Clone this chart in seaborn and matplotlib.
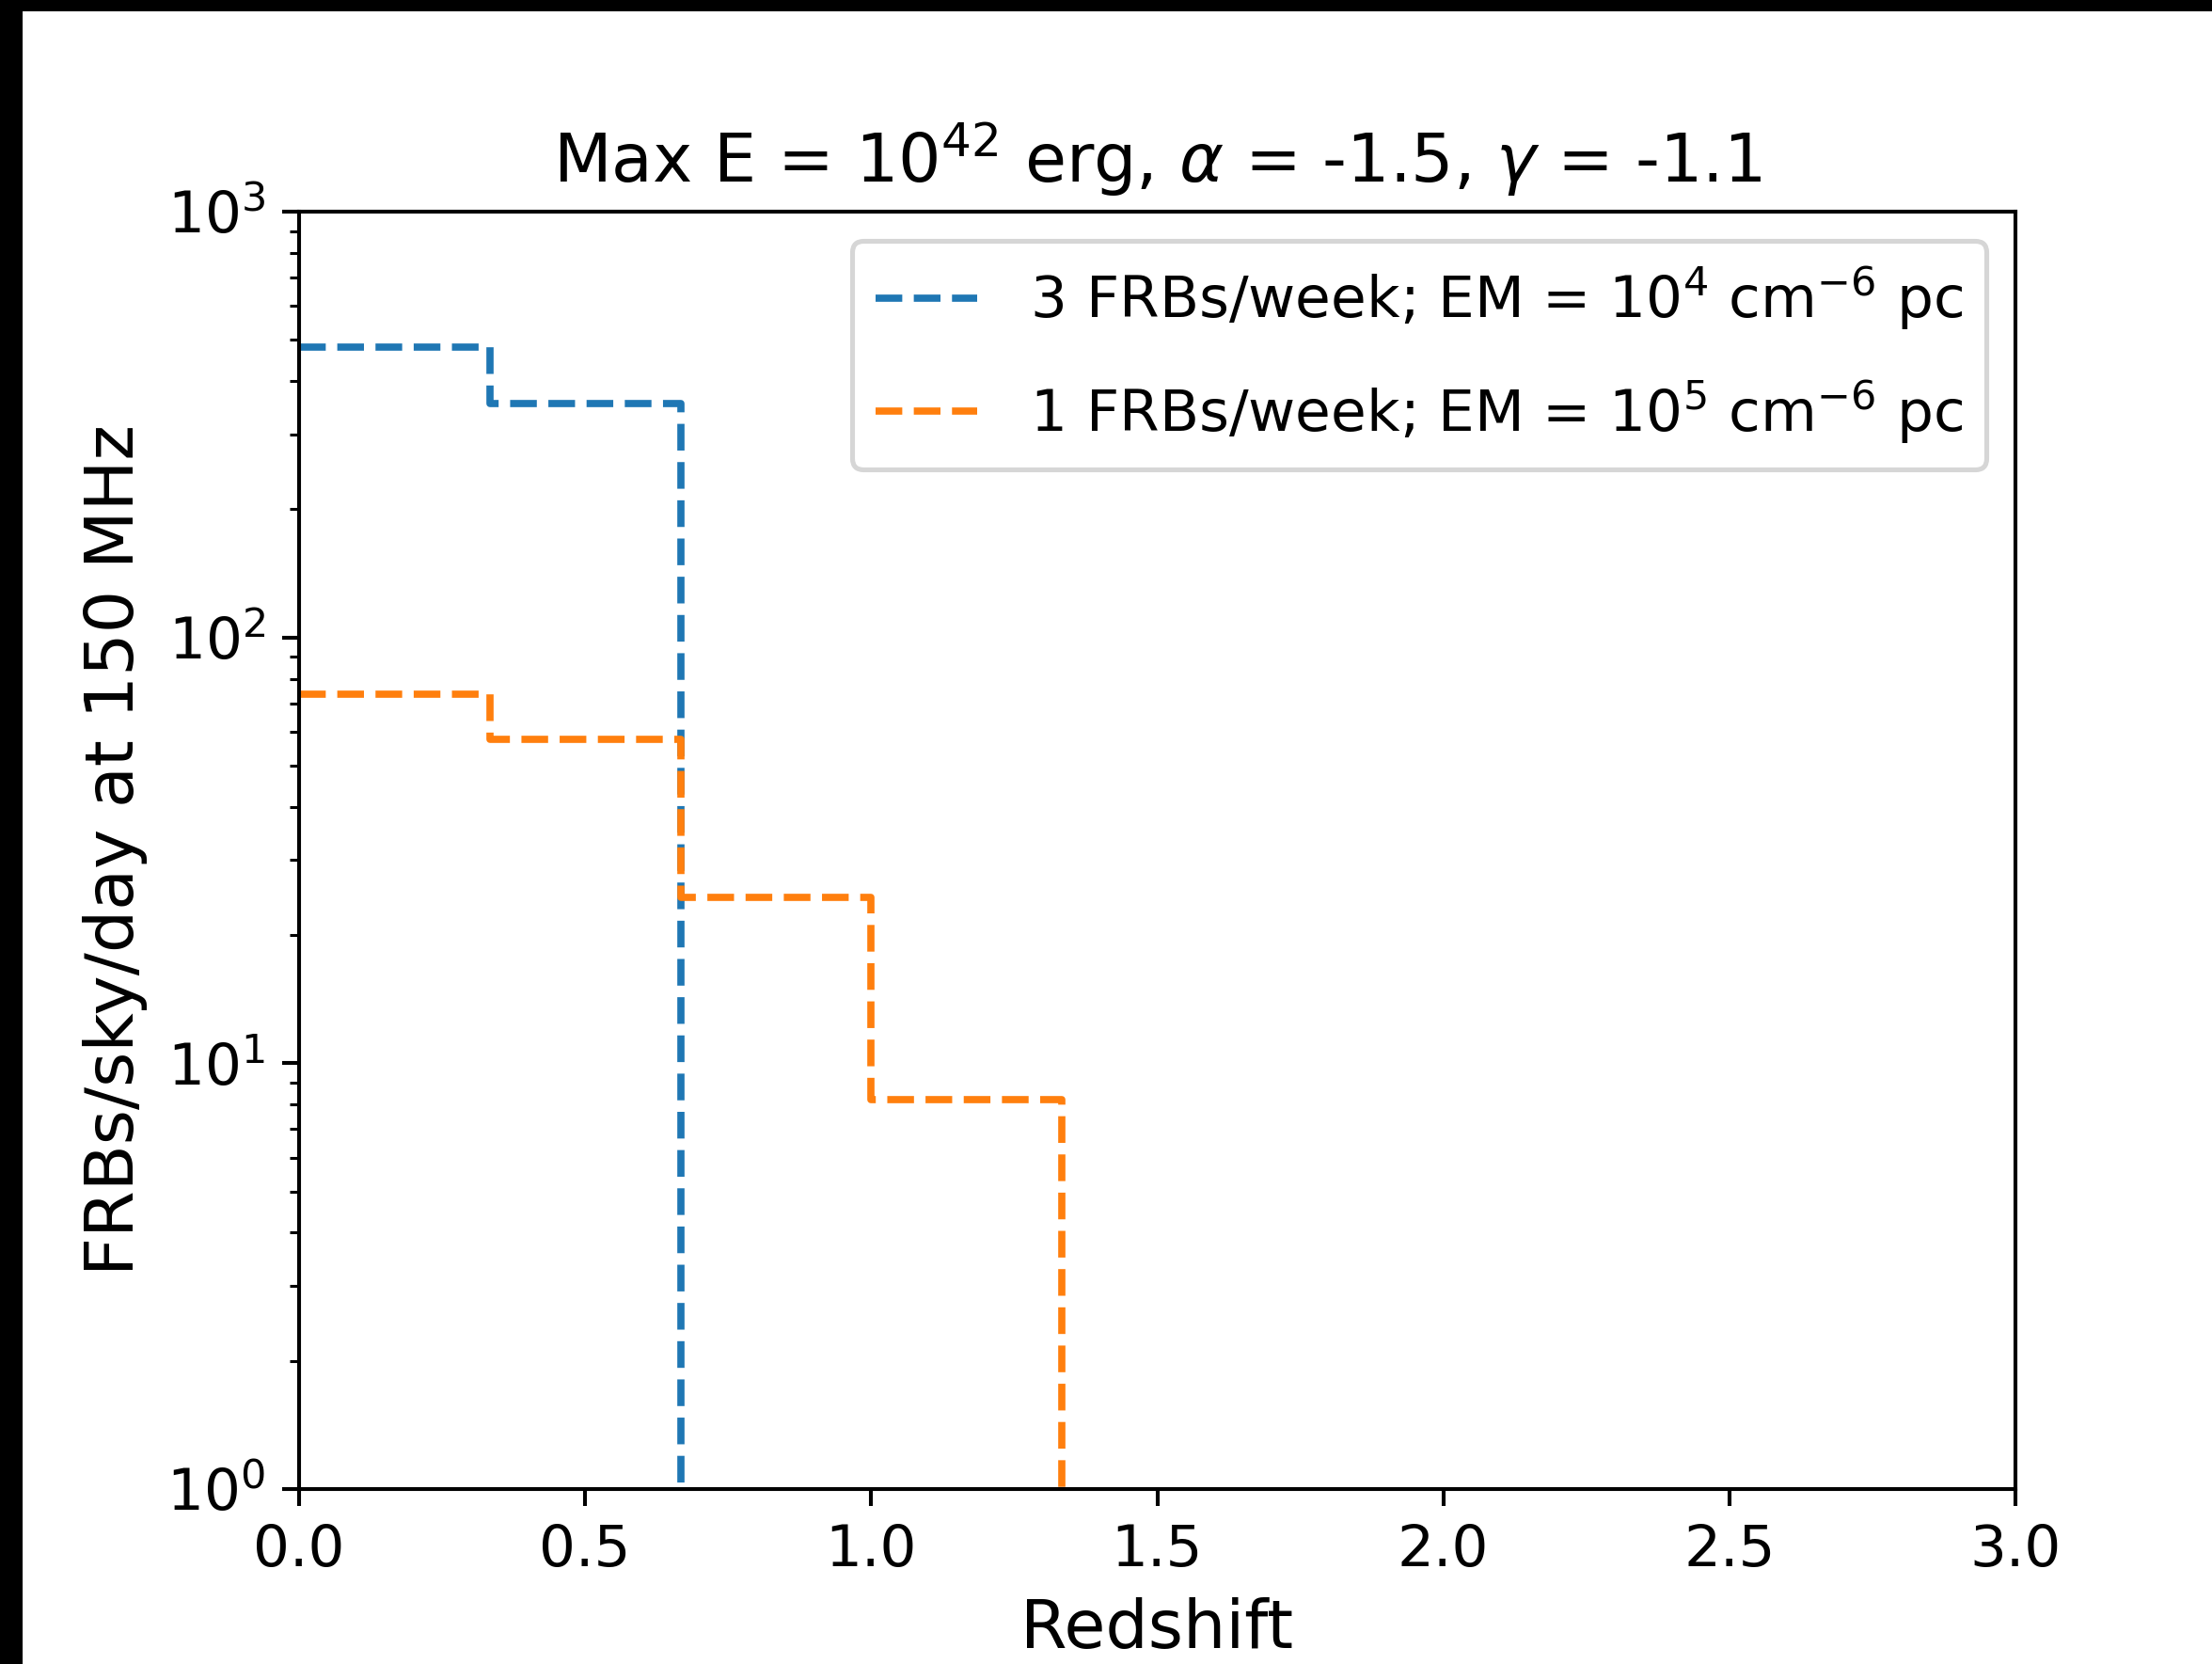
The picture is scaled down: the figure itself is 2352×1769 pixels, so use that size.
import numpy as np
import pandas as pd
import matplotlib
matplotlib.use("Agg")
import matplotlib.pyplot as plt
from matplotlib.patches import Rectangle
import seaborn as sns

# ---- data ----
bin_edges = [0.0, 1/3, 2/3, 1.0, 4/3, 5/3, 2.0, 7/3, 8/3, 3.0]
bin_centers = [(a + b) / 2 for a, b in zip(bin_edges[:-1], bin_edges[1:])]
rate_em4 = [481.0, 354.0, 0, 0, 0, 0, 0, 0, 0]      # 3 FRBs/week; EM = 1e4
rate_em5 = [73.5, 57.6, 24.5, 8.2, 0, 0, 0, 0, 0]   # 1 FRBs/week; EM = 1e5
label_em4 = r" 3 FRBs/week; EM = 10$^4$ cm$^{-6}$ pc"
label_em5 = r" 1 FRBs/week; EM = 10$^5$ cm$^{-6}$ pc"
title = r"Max E = 10$^{42}$ erg, $\alpha$ = -1.5, $\gamma$ = -1.1"
xlabel = "Redshift"
ylabel = "FRBs/sky/day at 150 MHz"

plt.rcParams["font.family"] = ["DejaVu Sans"]
plt.rcParams["mathtext.fontset"] = "dejavusans"

DPI = 368
W, H = 2352, 1769
fig = plt.figure(figsize=(W / DPI, H / DPI), dpi=DPI, facecolor="white")
ax = fig.add_axes([318 / W, 1 - 1583 / H, (2143 - 318) / W, (1583 - 225) / H])

df = pd.DataFrame({"z": bin_centers, "em4": rate_em4, "em5": rate_em5})
sns.histplot(data=df, x="z", weights="em4", bins=bin_edges, element="step",
             fill=False, color="#1f77b4", linestyle="--", linewidth=1.5,
             label=label_em4, ax=ax)
sns.histplot(data=df, x="z", weights="em5", bins=bin_edges, element="step",
             fill=False, color="#ff7f0e", linestyle="--", linewidth=1.5,
             label=label_em5, ax=ax)

ax.set_yscale("log")
ax.set_xlim(0, 3)
ax.set_ylim(1, 1000)
ax.set_xticks([0.0, 0.5, 1.0, 1.5, 2.0, 2.5, 3.0])
ax.tick_params(labelsize=12)
ax.set_xlabel(xlabel, fontsize=14)
ax.set_ylabel(ylabel, fontsize=14)
ax.set_title(title, fontsize=14)
ax.legend(loc="upper right", fontsize=12, labelspacing=0.8,
          handlelength=1.75, handletextpad=0.6, borderpad=0.42)

# dark frame strips present in the reference image
fig.add_artist(Rectangle((0, 1 - 9 / H), 1, 9 / H, transform=fig.transFigure,
                         color="black", zorder=10))
fig.add_artist(Rectangle((0, 0), 21 / W, 1, transform=fig.transFigure,
                         color="black", zorder=10))

fig.savefig("out.png", dpi=DPI, facecolor="white")
